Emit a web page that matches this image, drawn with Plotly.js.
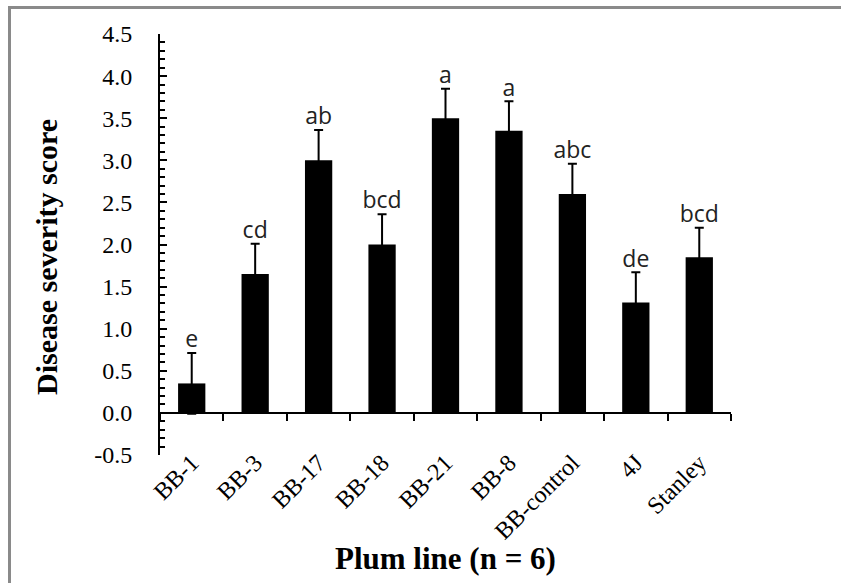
<!DOCTYPE html>
<html>
<head>
<meta charset="utf-8">
<script src="https://cdn.plot.ly/plotly-3.0.1.min.js"></script>
<style>
  html, body { margin: 0; padding: 0; background: #fff; }
  #wrap { position: relative; width: 841px; height: 583px; overflow: hidden; }
  #chart { position: absolute; left: 0; top: 0; width: 841px; height: 583px; }
  #frame { position: absolute; left: 8px; top: 6px; width: 900px; height: 700px;
           border-left: 3px solid #8a8a8a; border-top: 3px solid #8a8a8a; pointer-events: none; }
</style>
</head>
<body>
<div id="wrap">
  <div id="chart"></div>
  <div id="frame"></div>
</div>
<script>
// Data
const categories  = ["BB-1", "BB-3", "BB-17", "BB-18", "BB-21", "BB-8", "BB-control", "4J", "Stanley"];
const severity    = [0.35, 1.65, 3.00, 2.00, 3.50, 3.35, 2.60, 1.31, 1.85];
const stdErr      = [0.36, 0.36, 0.36, 0.36, 0.35, 0.35, 0.36, 0.36, 0.35];
const letters     = ["e", "cd", "ab", "bcd", "a", "a", "abc", "de", "bcd"];
const yTickVals   = [-0.5, 0, 0.5, 1, 1.5, 2, 2.5, 3, 3.5, 4, 4.5];
const yTickLabels = ["-0.5", "0.0", "0.5", "1.0", "1.5", "2.0", "2.5", "3.0", "3.5", "4.0", "4.5"];

const serif = "Liberation Serif";
const labelTops = severity.map((v, i) => v + stdErr[i]);

const traces = [
  {
    type: "bar",
    x: categories,
    y: severity,
    marker: { color: "#000000", line: { color: "#000000", width: 0 } },
    error_y: { type: "data", array: stdErr, symmetric: true, visible: true,
               color: "#000000", thickness: 2, width: 4.5 },
    hoverinfo: "x+y"
  },
  {
    type: "scatter",
    mode: "text",
    x: categories,
    y: labelTops,
    text: letters,
    textposition: "top center",
    textfont: { family: "Open Sans", size: 23, color: "#222222" },
    hoverinfo: "skip",
    cliponaxis: false
  },
  {
    type: "scatter",
    mode: "markers",
    x: categories,
    y: severity,
    xaxis: "x2",
    marker: { opacity: 0 },
    hoverinfo: "skip"
  }
];

const layout = {
  width: 841,
  height: 583,
  paper_bgcolor: "#ffffff",
  plot_bgcolor: "#ffffff",
  showlegend: false,
  bargap: 0.57,
  margin: { l: 160, r: 110, t: 34, b: 128 },
  xaxis: {
    type: "category",
    categoryorder: "array",
    categoryarray: categories,
    range: [-0.5, 8.5],
    showline: false,
    showgrid: false,
    zeroline: false,
    ticks: "",
    tickangle: -45,
    tickfont: { family: serif, size: 24, color: "#000000" },
    ticklabelstandoff: -12
  },
  xaxis2: {
    type: "category",
    categoryorder: "array",
    categoryarray: categories,
    range: [-0.5, 8.5],
    overlaying: "x",
    anchor: "free",
    position: 0.1,
    side: "bottom",
    showline: true,
    linecolor: "#000000",
    linewidth: 2,
    ticks: "outside",
    tickson: "boundaries",
    ticklen: 7,
    tickwidth: 2,
    tickcolor: "#000000",
    showticklabels: false,
    showgrid: false,
    zeroline: false
  },
  yaxis: {
    range: [-0.5, 4.5],
    tickmode: "array",
    tickvals: yTickVals,
    ticktext: yTickLabels,
    showline: true,
    linecolor: "#000000",
    linewidth: 2,
    ticks: "inside",
    ticklen: 7,
    tickwidth: 2,
    tickcolor: "#000000",
    minor: { tickmode: "linear", tick0: -0.5, dtick: 0.1, ticks: "inside",
             ticklen: 5, tickwidth: 2, tickcolor: "#000000", showgrid: false },
    showgrid: false,
    zeroline: false,
    tickfont: { family: serif, size: 24, color: "#000000" },
    ticklabelstandoff: 21
  },
  annotations: [
    {
      text: "<b>Plum line (n = 6)</b>",
      xref: "paper", yref: "paper",
      x: 0.5, y: -0.245,
      xanchor: "center", yanchor: "middle",
      showarrow: false,
      font: { family: serif, size: 31, color: "#000000" }
    },
    {
      text: "<b>Disease severity score</b>",
      xref: "paper", yref: "paper",
      x: -0.2, y: 0.47,
      xanchor: "center", yanchor: "middle",
      textangle: -90,
      showarrow: false,
      font: { family: serif, size: 30, color: "#000000" }
    }
  ]
};

Plotly.newPlot("chart", traces, layout, { staticPlot: true, displayModeBar: false });
</script>
</body>
</html>
